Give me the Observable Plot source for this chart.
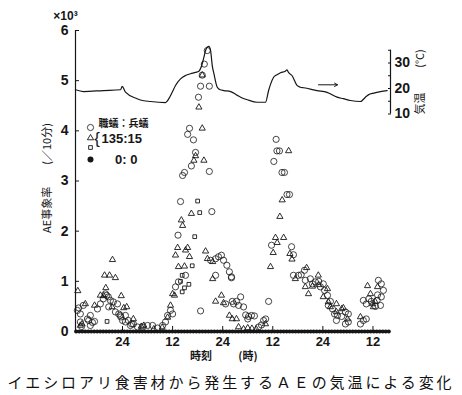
<!DOCTYPE html>
<html><head><meta charset="utf-8">
<script src="https://cdn.jsdelivr.net/npm/d3@7"></script>
<script src="https://cdn.jsdelivr.net/npm/@observablehq/plot@0.6"></script>
<style>
body{margin:0;background:#fff;}
#wrap{position:relative;width:462px;height:365px;}
#wrap svg{position:absolute;left:0;top:0;}
#cap{width:462px;text-align:center;font-family:"Noto Sans CJK JP",sans-serif;font-size:15px;letter-spacing:2.9px;line-height:34px;color:#111;white-space:nowrap;}
</style></head><body>
<div id="wrap"></div>
<div id="cap"></div>
<script>
// ---- texts ----
const caption = "イエシロアリ食害材から発生するＡＥの気温による変化";
const yLabel = "AE事象率　　(／10分)";
const xLabelA = "時刻";
const xLabelB = "(時)";
const yUnit = "×10³";
const tempLabel = "気温";
const tempUnit = "(°C)";
const legendTitle = "職蟻：兵蟻";
const legendRatio = "135:15";
const legendZero = "0: 0";

// ---- ticks ----
const xTicks = [24, 36, 48, 60, 72, 84];
const xTickLabels = ["24", "12", "24", "12", "24", "12"];
const yTicks = [0, 1, 2, 3, 4, 5, 6];
const tempTicks = [10, 15, 20, 25, 30, 35];
const tempTickLabels = ["10", "", "20", "", "30", ""];

// ---- AE rate series (hour, rate x10^3 per 10 min) ----
const circ = [
[13.2,0.42],[13.5,0.47],[13.9,0.35],[13.9,0.19],[14.6,0.52],[14.2,0.1],[15.6,0.25],[15.9,0.22],[16.3,0.32],[16.3,0.12],[16.8,0.18],[17.3,0.2],[18.0,0.45],[18.7,0.55],[19.4,0.65],[19.9,0.75],[20.2,0.72],[20.6,0.69],[21.1,0.62],[20.7,0.49],[21.8,0.59],[22.3,0.39],[22.8,0.55],[23.1,0.35],[23.5,0.32],[23.6,0.29],[24.0,0.22],[24.7,0.32],[24.7,0.19],[25.4,0.22],[25.9,0.12],[26.2,0.15],[26.6,0.15],[27.6,0.09],[28.8,0.09],[30.0,0.12],[31.2,0.12],[32.4,0.07],[33.6,0.12],[34.3,0.19],[34.8,0.32],[35.5,0.42],[36.0,0.35],[36.7,0.89],[37.4,0.99],[39.1,1.12],[37.3,1.92],
[37.9,2.59],[38.4,3.11],[38.85,3.17],[40.5,3.3],[39.6,3.93],[40.05,4.05],[41.0,3.82],[41.5,3.57],[42.2,4.67],[42.7,4.89],[43.1,5.11],[43.6,5.33],[44.3,5.6],[44.8,4.89],[44.8,3.19],[45.4,2.39],[46.3,1.45],[45.1,1.42],[47.0,1.49],[47.7,1.52],[48.2,1.42],[49.0,1.32],[49.6,1.19],[50.1,1.07],[46.3,1.12],[48.7,0.55],[50.3,0.6],[50.1,1.09],[51.3,0.6],[50.6,0.55],[51.8,0.52],[52.3,0.69],[53.0,0.49],[53.5,0.33],[54.2,0.3],[54.9,0.32],[55.6,0.31],[54.0,0.25],[56.6,0.09],[57.3,0.13],[57.8,0.22],[58.3,0.25],[59.0,0.6],[42.7,0.41],
[60.8,3.83],[61.0,3.6],[61.6,3.6],[60.25,3.39],[62.2,3.17],[62.8,3.17],[63.4,2.73],[64.0,2.73],[59.7,1.72],[64.5,1.69],[64.95,1.53],
[64.95,1.12],[66.15,1.12],[66.8,1.13],[67.6,1.22],[67.8,1.02],[69.0,1.05],[69.5,0.95],[70.2,0.99],[71.0,1.0],[71.4,0.89],[72.1,0.95],[72.4,0.82],[73.1,0.72],[73.3,0.52],[73.8,0.6],[74.3,0.45],[74.8,0.35],[75.5,0.32],[75.25,0.22],[77.4,0.39],[78.1,0.35],[77.4,0.15],[78.1,0.19],[76.5,0.3],
[81.0,0.15],[81.7,0.22],[82.4,0.25],[81.7,0.62],[82.4,0.55],[83.0,0.65],[83.6,0.6],[85.1,0.73],[85.3,1.02],[86.0,0.95],[86.5,0.82],[86.0,0.69],[85.8,0.52],[85.0,0.62],[84.6,0.5]
];
const tri = [
[13.3,0.81],[13.9,0.12],[15.1,0.55],[14.3,0.15],[17.3,0.52],[18.7,0.72],[19.5,0.71],[20.0,0.87],[19.7,1.12],[20.9,1.12],[22.3,1.07],[21.6,1.43],[21.5,0.49],[23.7,0.71],[24.3,0.47],[25.0,0.49],[26.6,0.25],[28.5,0.1],[29.1,0.12],[31.5,0.05],[33.5,0.08],[34.8,0.28],[35.5,0.52],[36.45,0.72],[36.0,0.75],[37.4,1.29],[36.7,1.52],[37.2,1.67],[38.1,2.22],[38.4,2.11],[39.6,1.67],[40.05,1.49],[38.85,1.3],[39.1,1.62],[40.5,2.35],[41.5,3.5],[41.1,3.41],[43.5,3.41],[42.3,4.47],[43.1,4.05],[43.1,5.11],[43.9,1.6],[44.35,1.45],[45.6,1.39],[45.6,1.05],[46.3,0.6],[47.7,0.72],[48.2,0.57],[49.6,0.32],[50.3,0.25],[51.3,0.25],[51.8,0.09],[53.0,0.05],[54.0,0.07],[55.0,0.06],[56.0,0.05],[58.25,0.15],
[60.65,1.87],[62.6,1.87],[61.05,1.77],[60.1,1.57],[64.1,1.55],[64.6,1.44],[59.45,1.29],[63.8,3.6],[62.25,2.62],[61.7,2.29],
[65.4,1.05],[67.8,0.89],[68.1,1.27],[68.55,0.75],[70.9,1.12],[69.5,0.9],[71.0,0.93],[73.1,0.85],[72.1,0.69],[73.3,0.59],[73.8,0.49],[75.25,0.55],[75.25,0.39],[76.9,0.47],[77.9,0.25],[76.5,0.45],
[81.0,0.29],[82.7,0.91],[83.4,0.75],[83.9,0.55],[84.1,0.49],[85.1,0.89],[84.5,0.6]
];
const sq = [[20.3,0.2],[37.9,1.0],[38.3,0.79],[38.85,0.87],[38.3,1.12],[39.9,0.94],[40.7,1.31],[41.3,1.89],[42.0,2.6],[42.5,2.37]];
// control (0:0): zero rate at every sampling time
const zeroTimes = d3.range(12.9, 88.3, 0.72);
const zeroRates = zeroTimes.map(() => 0);

// ---- air temperature (hour, °C) ----
const temp = [
[12.74,19.5],[14.66,18.8],[19.45,19.2],[23.52,19.5],[23.93,20.8],[24.72,18.6],[27.5,16.0],[28.3,15.5],[30.7,14.9],[34.3,14.5],[35.1,16.0],[35.9,18.5],[36.7,21.2],[37.9,23.8],[39.1,25.1],[40.3,25.8],[41.5,26.3],[42.3,26.8],[43.1,29.7],[43.5,32.3],[43.9,34.9],[44.3,36.2],[44.7,36.5],[45.1,34.9],[45.5,29.0],[45.9,25.8],[46.7,20.5],[47.4,19.5],[48.3,19.2],[49.9,18.8],[51.5,17.3],[52.3,16.6],[53.9,15.6],[56.3,14.6],[58.25,14.6],[59.0,19.2],[59.5,21.8],[60.2,24.4],[61.0,25.4],[61.85,26.2],[63.0,26.8],[63.4,27.3],[63.8,26.2],[64.6,25.1],[65.8,21.2],[66.6,20.5],[67.4,20.3],[70.6,19.2],[73.0,18.5],[75.4,16.6],[76.9,16.0],[78.6,15.3],[81.0,14.9],[82.2,16.6],[82.9,17.5],[84.2,18.2],[85.8,18.8],[87.4,19.2]
];
const arrowSeg = [{x1: 70.95, x2: 75.5, t: 21.45}];

// ---- layout ----
const W = 462, H = 365;
const M = {marginTop: 30, marginBottom: 34, marginLeft: 75, marginRight: 72};
const xDomain = [12.74, 88.2];
const ink = "#161616";
const cjk = "Noto Sans CJK JP";
const baseStyle = {fontFamily: "Liberation Sans, Arial, sans-serif", fontSize: "13px", fontWeight: "bold", background: "transparent", color: ink, overflow: "visible"};
const T = (txt, o) => Plot.text([txt], {textAnchor: "middle", lineAnchor: "middle", fill: ink, ...o});

const main = Plot.plot({
  width: W, height: H, ...M,
  x: {domain: xDomain},
  y: {domain: [0, 6]},
  style: baseStyle,
  marks: [
    Plot.ruleX([xDomain[0]], {stroke: ink, strokeWidth: 1.2}),
    Plot.ruleX(xTicks, {y1: 0, y2: 0.1, stroke: ink}),
    Plot.dot(zeroTimes, {x: d => d, y: (d, i) => zeroRates[i], r: 2.1, fill: ink, stroke: "none"}),
    Plot.dot(circ, {x: d => d[0], y: d => d[1], r: 3.1, symbol: "circle", fill: "none", stroke: ink, strokeWidth: 0.8}),
    Plot.dot(tri, {x: d => d[0], y: d => d[1], r: 2.3, symbol: "triangle", fill: "none", stroke: ink, strokeWidth: 0.9}),
    Plot.dot(sq, {x: d => d[0], y: d => d[1], r: 2.1, symbol: "square", fill: "none", stroke: ink, strokeWidth: 0.9}),
    Plot.axisY({ticks: yTicks, tickSize: -4, tickPadding: 11, tickFormat: d => String(d), label: null, fontSize: 14}),
    Plot.axisX({ticks: xTicks, tickSize: 0, tickPadding: 5, tickFormat: d => xTickLabels[xTicks.indexOf(d)], label: null}),
    T(yUnit, {frameAnchor: "top-left", dx: -10, dy: -14, fontSize: 12, fontWeight: "bold"}),
    T(yLabel, {frameAnchor: "left", dx: -28, dy: -3, rotate: -90, fontFamily: cjk, fontSize: 11, fontWeight: "normal"}),
    T(xLabelA, {frameAnchor: "bottom", dx: -32, dy: 25, fontFamily: cjk, fontSize: 11, fontWeight: "bold"}),
    T(xLabelB, {frameAnchor: "bottom", dx: 15, dy: 25, fontFamily: cjk, fontSize: 11, fontWeight: "bold"}),
    // legend
    Plot.dot([0], {frameAnchor: "top-left", dx: 15, dy: 97, r: 3.1, symbol: "circle", fill: "none", stroke: ink, strokeWidth: 0.8}),
    Plot.dot([0], {frameAnchor: "top-left", dx: 15, dy: 107.5, r: 2.3, symbol: "triangle", fill: "none", stroke: ink, strokeWidth: 0.9}),
    Plot.dot([0], {frameAnchor: "top-left", dx: 15, dy: 117, r: 2.1, symbol: "square", fill: "none", stroke: ink, strokeWidth: 0.9}),
    Plot.dot([0], {frameAnchor: "top-left", dx: 15, dy: 129, r: 3, fill: ink, stroke: "none"}),
    T(legendTitle, {frameAnchor: "top-left", dx: 23, dy: 93, textAnchor: "start", fontFamily: cjk, fontSize: 10, fontWeight: "bold"}),
    T("{", {frameAnchor: "top-left", dx: 21.5, dy: 108, fontSize: 17, fontWeight: "normal"}),
    T(legendRatio, {frameAnchor: "top-left", dx: 26, dy: 108, textAnchor: "start", fontSize: 13}),
    T(legendZero, {frameAnchor: "top-left", dx: 62, dy: 129, textAnchor: "end", fontSize: 13})
  ]
});

const tLow = 20 - 243 / 2.55, tHigh = 20 + 58 / 2.55;
const tplot = Plot.plot({
  width: W, height: H, ...M,
  x: {domain: xDomain, axis: null},
  y: {domain: [tLow, tHigh]},
  style: baseStyle,
  marks: [
    Plot.line(temp, {x: d => d[0], y: d => d[1], stroke: ink, strokeWidth: 1.2, curve: "monotone-x"}),
    Plot.ruleX([xDomain[1]], {y1: d3.min(tempTicks), y2: d3.max(tempTicks), stroke: ink, strokeWidth: 1.2}),
    Plot.axisY({anchor: "right", ticks: tempTicks, tickSize: -3, tickPadding: 7, tickFormat: d => tempTickLabels[tempTicks.indexOf(d)], label: null, fontSize: 14}),
    Plot.arrow(arrowSeg, {x1: "x1", x2: "x2", y1: "t", y2: "t", stroke: ink, strokeWidth: 1, headLength: 5}),
    T(tempUnit, {frameAnchor: "top-right", dx: 30, dy: 28, rotate: -90, fontFamily: cjk, fontSize: 11, fontWeight: "normal"}),
    T(tempLabel, {frameAnchor: "top-right", dx: 30, dy: 73, rotate: -90, fontFamily: cjk, fontSize: 11, fontWeight: "normal"})
  ]
});

const wrap = document.getElementById("wrap");
wrap.appendChild(main);
wrap.appendChild(tplot);
document.getElementById("cap").textContent = caption;
</script>
</body></html>
